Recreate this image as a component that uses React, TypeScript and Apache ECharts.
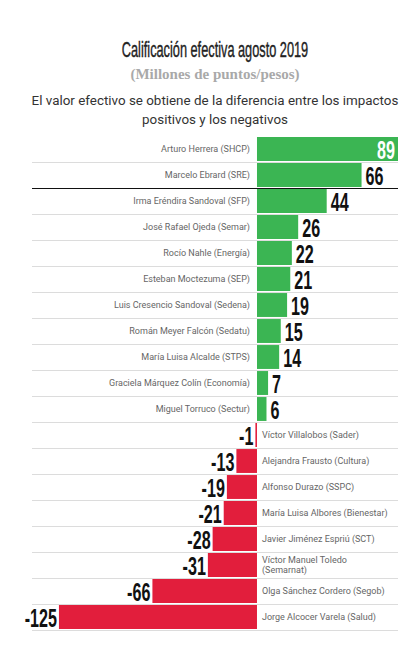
import React, { useEffect, useRef } from "react";
import * as echarts from "echarts";

const names = [
  "Arturo Herrera (SHCP)",
  "Marcelo Ebrard (SRE)",
  "Irma Eréndira Sandoval (SFP)",
  "José Rafael Ojeda (Semar)",
  "Rocío Nahle (Energía)",
  "Esteban Moctezuma (SEP)",
  "Luis Cresencio Sandoval (Sedena)",
  "Román Meyer Falcón (Sedatu)",
  "María Luisa Alcalde (STPS)",
  "Graciela Márquez Colín (Economía)",
  "Miguel Torruco (Sectur)",
  "Víctor Villalobos (Sader)",
  "Alejandra Frausto (Cultura)",
  "Alfonso Durazo (SSPC)",
  "María Luisa Albores (Bienestar)",
  "Javier Jiménez Espriú (SCT)",
  "Víctor Manuel Toledo (Semarnat)",
  "Olga Sánchez Cordero (Segob)",
  "Jorge Alcocer Varela (Salud)",
];
const values = [89, 66, 44, 26, 22, 21, 19, 15, 14, 7, 6, -1, -13, -19, -21, -28, -31, -66, -125];

const titleText = "Calificación efectiva agosto 2019";
const subtitleText = "(Millones de puntos/pesos)";
const descText = "El valor efectivo se obtiene de la diferencia entre los impactos\npositivos y los negativos";

const GREEN = "#3bb553";
const RED = "#e21e3c";
const NUM_FONT = "'Liberation Sans', Arial, sans-serif";

export default function App() {
  const ref = useRef<HTMLDivElement>(null);
  useEffect(() => {
    document.body.style.margin = "0";
    const chart = echarts.init(ref.current!, null, { renderer: "svg" });
    const maxV = Math.max(...values);
    const splitColors = names.map((_, i) => (i === 0 ? "transparent" : i === 2 ? "#111" : "#dcdcdc"));
    splitColors.push("#dcdcdc");
    chart.setOption({
      animation: false,
      backgroundColor: "#fff",
      graphic: [
        {
          type: "text",
          x: 215,
          y: 50,
          scaleX: 0.58,
          style: {
            text: titleText,
            font: "normal 22px 'Liberation Sans', Arial, sans-serif",
            fill: "#222",
            stroke: "#222",
            lineWidth: 0.4,
            textAlign: "center",
            textVerticalAlign: "middle",
          },
        },
        {
          type: "text",
          x: 215,
          y: 74,
          style: {
            text: subtitleText,
            font: "bold 15px 'Liberation Serif', 'DejaVu Serif', serif",
            fill: "#a9a9a9",
            textAlign: "center",
            textVerticalAlign: "middle",
          },
        },
        {
          type: "text",
          x: 215,
          y: 110,
          style: {
            text: descText,
            font: "normal 13.4px Roboto, sans-serif",
            lineHeight: 19.5,
            fill: "#333",
            textAlign: "center",
            textVerticalAlign: "middle",
          },
        },
      ],
      grid: { left: 32, right: 15, top: 136, bottom: 20, containLabel: false },
      xAxis: {
        type: "value",
        min: -142,
        max: 89,
        show: false,
        splitLine: { show: false },
      },
      yAxis: {
        type: "category",
        data: names,
        inverse: true,
        axisLine: { show: false },
        axisTick: { show: false },
        axisLabel: { show: false },
        splitLine: { show: true, lineStyle: { color: splitColors, width: 1 } },
      },
      series: [
        {
          type: "bar",
          barCategoryGap: "8%",
          data: values.map((v) => ({
            value: v,
            itemStyle: { color: v >= 0 ? GREEN : RED },
            label: {
              show: true,
              position: v >= 0 ? "left" : "right",
              distance: v >= 0 ? 7 : 5,
              formatter: "{b}",
              color: "#666",
              fontFamily: "Roboto, sans-serif",
              fontSize: 9,
              lineHeight: 10,
              width: v >= 0 ? 220 : 136,
              overflow: "break",
              align: v >= 0 ? "right" : "left",
            },
          })),
          z: 2,
        },
        {
          type: "custom",
          z: 3,
          silent: true,
          encode: { x: 0, y: 1 },
          data: values.map((v, i) => [v, i]),
          renderItem: (params: any, api: any) => {
            const v = api.value(0);
            const p = api.coord([v, api.value(1)]);
            const isMax = v === maxV;
            const pos = v >= 0;
            return {
              type: "text",
              x: isMax ? p[0] - 3 : pos ? p[0] + 4 : p[0] - 2,
              y: p[1] + 1,
              scaleX: 0.62,
              style: {
                text: String(v),
                font: "bold 26px " + NUM_FONT,
                fill: isMax ? "#fff" : "#111",
                textAlign: isMax ? "right" : pos ? "left" : "right",
                textVerticalAlign: "middle",
              },
            };
          },
        },
      ],
    });
    return () => chart.dispose();
  }, []);
  return <div ref={ref} style={{ width: 413, height: 650, position: "fixed", left: 0, top: 0 }} />;
}
